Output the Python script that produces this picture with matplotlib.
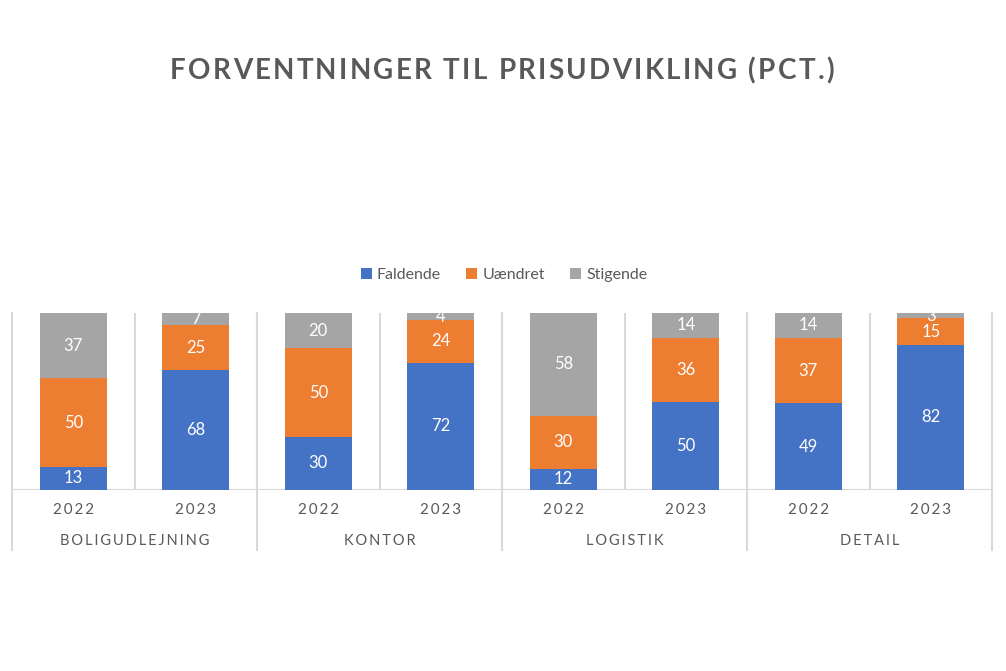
import matplotlib
matplotlib.use('Agg')
import matplotlib.pyplot as plt
import numpy as np

plt.rcParams['font.family'] = ['Lato', 'DejaVu Sans']

categories = ['BOLIGUDLEJNING', 'KONTOR', 'LOGISTIK', 'DETAIL']
years = ['2022', '2023']
faldende = [13, 68, 30, 72, 12, 50, 49, 82]
uaendret = [50, 25, 50, 24, 30, 36, 37, 15]
stigende = [37, 7, 20, 4, 58, 14, 14, 3]
title = 'FORVENTNINGER TIL PRISUDVIKLING (PCT.)'

colors = ['#4472C4', '#ED7D31', '#A5A5A5']
line_col = '#D9D9D9'
text_col = '#595959'


def spaced(s, sep='\u2009'):
    return sep.join(s)


def tracked_text(fig, s, cx, cy, track, **kw):
    # draw text letter by letter with extra spacing (pixels), centred at cx, cy
    r = fig.canvas.get_renderer()
    widths = []
    for ch in s:
        t = fig.text(0, 0, ch, **kw)
        widths.append(t.get_window_extent(r).width if ch != ' ' else None)
        t.remove()
    sp = fig.text(0, 0, 'A A', **kw)
    aa = fig.text(0, 0, 'AA', **kw)
    space_w = sp.get_window_extent(r).width - aa.get_window_extent(r).width
    sp.remove()
    aa.remove()
    widths = [space_w if w is None else w for w in widths]
    total = sum(widths) + track * (len(s) - 1)
    W, H = fig.bbox.width, fig.bbox.height
    xpos = cx - total / 2
    for ch, w in zip(s, widths):
        if ch != ' ':
            fig.text(xpos / W, cy / H, ch, ha='left', va='center', **kw)
        xpos += w + track


def main():
    W, H = 1006, 671
    fig = plt.figure(figsize=(W / 100, H / 100), dpi=100)
    ax = fig.add_axes([12 / W, (H - 490) / H, 980 / W, 177 / H])

    x = np.arange(len(faldende))
    f = np.array(faldende)
    u = np.array(uaendret)
    s = np.array(stigende)
    w = 0.55
    b1 = ax.bar(x, f, w, color=colors[0], label='Faldende', zorder=3)
    b2 = ax.bar(x, u, w, bottom=f, color=colors[1], label='Uændret', zorder=3)
    b3 = ax.bar(x, s, w, bottom=f + u, color=colors[2], label='Stigende', zorder=3)

    for bars, vals, bots in [(b1, f, 0 * f), (b2, u, f), (b3, s, f + u)]:
        for xi, v, b in zip(x, vals, bots):
            ax.text(xi, b + v / 2, str(v), ha='center', va='center',
                    color='white', fontsize=12, zorder=4)

    ax.set_xlim(-0.5, len(x) - 0.5)
    ax.set_ylim(0, 100)
    ax.set_xticks([])
    ax.set_yticks([])
    for sp in ax.spines.values():
        sp.set_visible(False)
    ax.axhline(0, color=line_col, lw=1.5, zorder=2)

    # separators between bars
    for xv in np.arange(0.5, len(x) - 1, 1.0):
        ax.plot([xv, xv], [0, 100], color=line_col, lw=1.5, zorder=1)
    # category separators run below the axis
    trans = ax.get_xaxis_transform()
    for xv in np.arange(-0.5, len(x), 2.0):
        ax.plot([xv, xv], [-60 / 177, 1], color=line_col, lw=1.5,
                transform=trans, clip_on=False, zorder=1)

    for i, xi in enumerate(x):
        ax.text(xi, -20 / 177, spaced(years[i % 2]), transform=trans,
                ha='center', va='center', color=text_col, fontsize=11)
    for j, c in enumerate(categories):
        ax.text(2 * j + 0.5, -51 / 177, spaced(c), transform=trans,
                ha='center', va='center', color=text_col, fontsize=10.5)

    fig.legend(handles=[b1, b2, b3], loc='center', bbox_to_anchor=(504 / W, 1 - 275 / H),
               ncol=3, frameon=False, fontsize=11.5, handlelength=0.7, handleheight=0.7,
               handletextpad=0.3, columnspacing=1.6, labelcolor=text_col)

    tracked_text(fig, title, 502, H - 71, 2.3, fontsize=20, fontweight='bold',
                 color=text_col)

    fig.savefig('out.png', dpi=100)


if __name__ == '__main__':
    main()
